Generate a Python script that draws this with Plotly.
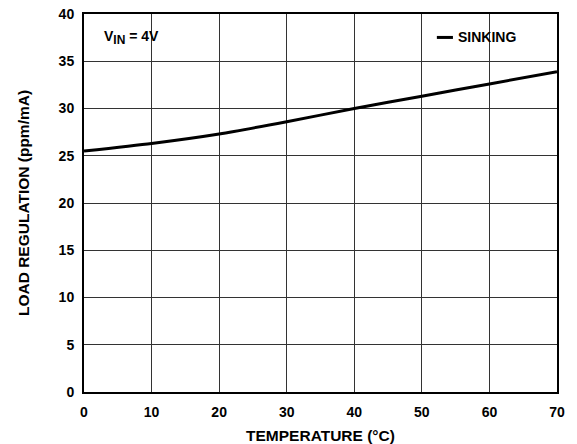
import plotly.graph_objects as go

temperature = [0, 10, 20, 30, 40, 50, 60, 70]
sinking = [25.5, 26.3, 27.3, 28.6, 30.0, 31.3, 32.6, 33.9]
x_ticks = [0, 10, 20, 30, 40, 50, 60, 70]
y_ticks = [0, 5, 10, 15, 20, 25, 30, 35, 40]

FONT = "Liberation Sans, Arial, sans-serif"

fig = go.Figure()
fig.add_trace(go.Scatter(
    x=temperature, y=sinking, mode="lines", name="SINKING",
    line=dict(color="black", width=3, shape="spline", smoothing=0.6),
    showlegend=False,
))

axis_common = dict(
    showgrid=True, gridcolor="#333333", gridwidth=1.2,
    showline=True, linecolor="black", linewidth=2, mirror=True,
    ticks="", zeroline=False, automargin=False,
    tickfont=dict(family=FONT, size=14, color="black", weight="bold"),
)

fig.update_xaxes(range=[0, 70], tickvals=x_ticks, ticklabelstandoff=6, **axis_common,
                 title=dict(text="<b>TEMPERATURE (°C)</b>",
                            font=dict(family=FONT, size=15.5, color="black"),
                            standoff=13))
fig.update_yaxes(range=[0, 40], tickvals=y_ticks, ticklabelstandoff=5, **axis_common,
                 title=dict(text="<b>LOAD REGULATION (ppm/mA)</b>",
                            font=dict(family=FONT, size=15.5, color="black"),
                            standoff=25))

fig.add_annotation(x=0.038, y=0.938, xref="paper", yref="paper",
                   text='<b>V<sub><span style="font-size:12px">IN</span></sub> = 4V</b>',
                   showarrow=False, xanchor="left", yanchor="middle",
                   font=dict(family=FONT, size=14, color="black"))
fig.add_shape(type="line", xref="paper", yref="paper",
              x0=0.746, x1=0.780, y0=0.938, y1=0.938,
              line=dict(color="black", width=3))
fig.add_annotation(x=0.787, y=0.938, xref="paper", yref="paper",
                   text="<b>SINKING</b>", showarrow=False,
                   xanchor="left", yanchor="middle",
                   font=dict(family=FONT, size=14, color="black"))

fig.update_layout(
    width=577, height=444,
    margin=dict(l=84, r=20, t=14, b=52),
    paper_bgcolor="white", plot_bgcolor="white",
    showlegend=False,
)

fig.write_html("out.html", config={"displayModeBar": False},
               post_script="document.body.style.margin='0';document.body.style.overflow='hidden';")
